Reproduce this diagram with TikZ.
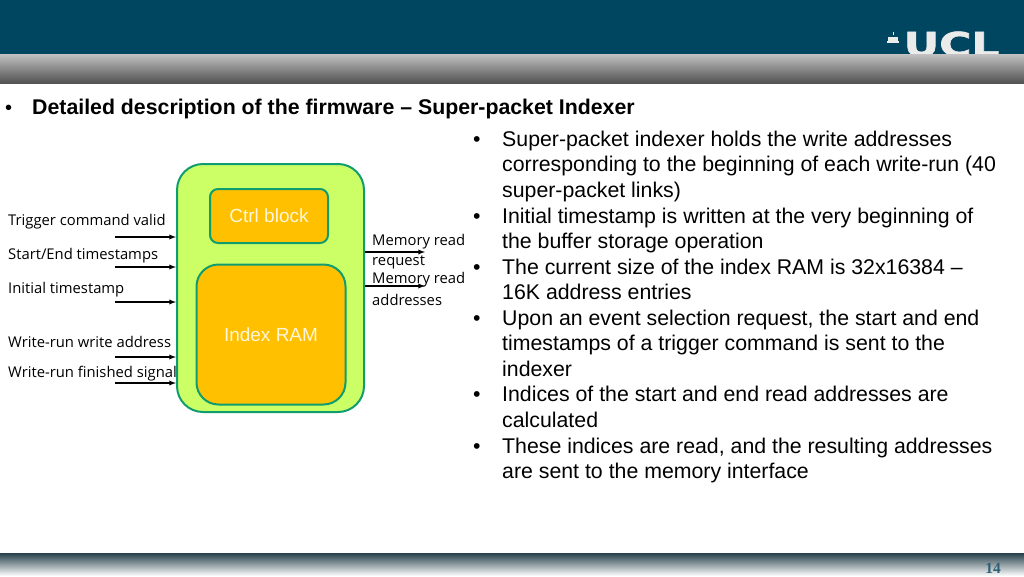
\documentclass[tikz,border=0pt]{standalone}
\usepackage{fontspec}
\setmainfont{Liberation Sans}
\newfontfamily\labelfont{Open Sans}
\newfontfamily\pagefont{Liberation Serif}
\newfontfamily\logofont[FakeBold=1.6]{DejaVu Sans Bold}
\usetikzlibrary{positioning}
\definecolor{headerblue}{HTML}{004660}
\definecolor{blockgreen}{HTML}{CCFF66}
\definecolor{blockedge}{HTML}{0F9D70}
\definecolor{ramorange}{HTML}{FFC000}
\definecolor{pageblue}{HTML}{2F5F78}
\tikzset{
    blockbox/.style={draw=blockedge,line width=2pt,fill=ramorange,text=white!85!ramorange,font=\fontsize{19}{22}\selectfont},
    portlabel/.style={anchor=west,inner sep=0pt,font=\labelfont\fontsize{14.8}{21}\selectfont},
    bodytext/.style={anchor=base west,inner sep=0pt,font=\fontsize{21.3}{25.6}\selectfont},
    sigline/.style={-latex,line width=1.3pt}
}
\begin{document}
\begin{tikzpicture}[x=1pt,y=-1pt]
    \useasboundingbox (0,0) rectangle (1024,576);

    % header
    \fill[headerblue] (0,0) rectangle (1024,55);
    \node[text=white!92!black,font=\logofont\fontsize{33}{33}\selectfont,xscale=1.33,transform shape,inner sep=0pt,anchor=base] (ucl) at (951.5,56) {UCL};
    \fill[white!92!black] (887,41) rectangle (899,43);
    \fill[white!92!black] (888,37) rectangle (898,41.5);
    \fill[white!92!black] (889,37.5) arc (180:0:4) -- cycle;
    \fill[white!92!black] (892.5,31.5) rectangle (893.5,35);
    \shade[top color=black!24,bottom color=black!68] (0,54) rectangle (1024,83);

    % footer
    \shade[top color=headerblue!45!black!85,bottom color=white] (0,553) rectangle (1024,576);
    \node[text=pageblue,font=\pagefont\bfseries\fontsize{15.5}{15.5}\selectfont,inner sep=0pt] (pagenum) at (993,568) {14};

    \node[anchor=base west,inner sep=0pt,font=\fontsize{20}{24}\selectfont] (titledot) at (5,114) {•};
    \node[anchor=base west,inner sep=0pt,font=\bfseries\fontsize{21.3}{24}\selectfont] (title) at (32,114) {Detailed description of the firmware – Super-packet Indexer};

    % blocks
    \node[blockbox,fill=blockgreen,rounded corners=26pt,minimum width=187pt,minimum height=248pt] (indexer) at (270.5,288) {};
    \node[blockbox,rounded corners=8pt,minimum width=118pt,minimum height=54pt] (ctrl) at (269,216) {Ctrl block};
    \node[blockbox,rounded corners=22pt,minimum width=149pt,minimum height=140pt] (ram) at (271,334.5) {Index RAM};

    % inputs
    \foreach \name/\ya/\yb/\txt in {trig/221.5/237/{Trigger command valid},stamps/255.5/267/{Start/End timestamps},init/289.5/302/{Initial timestamp},wraddr/341.5/357/{Write-run write address},wrdone/374/383/{Write-run finished signal}}
    {
        \node[portlabel] (\name) at (8,\ya) {\txt};
        \coordinate (\name in) at (115,\yb);
        \draw[sigline] (\name in) -- (\name in -| indexer.west);
    }

    % outputs
    \coordinate (reqend) at (425,252);
    \coordinate (addrend) at (425,286);
    \draw[sigline] (reqend -| indexer.east) -- (reqend);
    \draw[sigline] (addrend -| indexer.east) -- (addrend);
    \node[portlabel] (req1) at (372,241.5) {Memory read};
    \node[portlabel] (req2) at (372,262) {request};
    \node[portlabel] (addr1) at (372,279.5) {Memory read};
    \node[portlabel] (addr2) at (372,299.5) {addresses};

    % text on the right
    \foreach \y/\txt in {146/{Super-packet indexer holds the write addresses},
        171.5/{corresponding to the beginning of each write-run (40},
        197.5/{super-packet links)},
        223/{Initial timestamp is written at the very beginning of},
        248.5/{the buffer storage operation},
        274/{The current size of the index RAM is 32x16384 –},
        299.5/{16K address entries},
        325/{Upon an event selection request, the start and end},
        350.5/{timestamps of a trigger command is sent to the},
        376/{indexer},
        401.5/{Indices of the start and end read addresses are},
        427.5/{calculated},
        453/{These indices are read, and the resulting addresses},
        478.5/{are sent to the memory interface}}
    {
        \node[bodytext] at (502,\y) {\txt};
    }
    \foreach \y in {146,223,274,325,401.5,453}
    {
        \node[bodytext] at (473,\y) {•};
    }
\end{tikzpicture}
\end{document}
